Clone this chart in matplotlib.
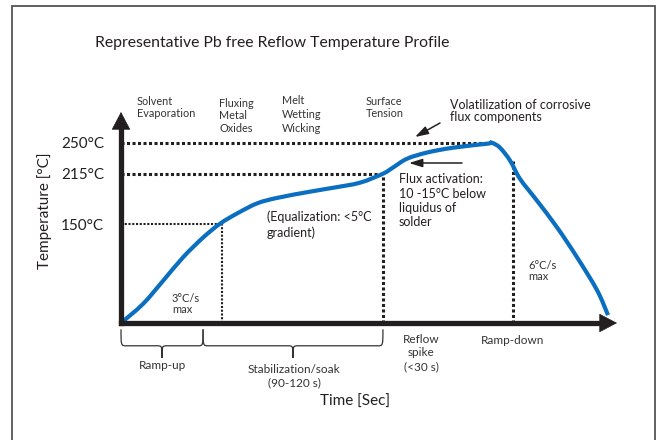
import numpy as np
import matplotlib
matplotlib.use("Agg")
import matplotlib.pyplot as plt
from matplotlib.path import Path
from matplotlib.patches import PathPatch, Rectangle, FancyArrowPatch
import matplotlib.transforms as mtransforms

plt.rcParams['font.family'] = ['Lato', 'DejaVu Sans']

# profile: time [s] / temperature [°C]
time_s = [0, 16.4, 31.3, 46.3, 61.2, 73.9, 86.5, 101.5, 116.4, 141.0, 158.2,
          178.3, 195.4, 202.9, 213.4, 228.3, 247.7, 273.0, 276.8, 282.7,
          290.2, 297.6, 310.3, 325.3, 340.2, 355.1, 363.3]
temp_c = [0, 29, 64, 100, 130, 151, 164, 177, 184, 192, 197,
          203.5, 215, 222, 232, 239, 244.5, 249, 250, 244.5,
          230, 208.5, 180.5, 145.5, 100, 50, 12]

levels = [150, 215, 250]
level_labels = ["150°C", "215°C", "250°C"]
level_ends = [75.3, 195.4, 276.8]          # where each dotted level meets the curve

marks_t = [75.3, 195.4, 292.4]             # vertical dotted markers
marks_top = [150, 215, 229.7]

phase_edges = [0, 61.2, 195.4]             # ramp-up | soak
phase_names = ["Ramp-up", "Stabilization/soak\n(90-120 s)"]

# the drawing is not to scale on the temperature axis
T_knots = [-50, 0, 150, 215, 250, 285, 400]
H_knots = [-33, 0, 99, 150, 181, 212, 314]

W, H = 656, 440
INK = "#231f20"
GREY = "#333333"
BLUE = "#0a6fc0"


def fx(x):
    return x / W


def fy(y):
    return 1 - y / H


def to_h(t):
    return np.interp(t, T_knots, H_knots)


def to_t(h):
    return np.interp(h, H_knots, T_knots)


def smooth_path(xs, ts):
    # catmull-rom through the read points, drawn as bezier segments
    p = np.column_stack([xs, to_h(np.asarray(ts, float))])
    p = np.vstack([p[0], p, p[-1]])
    verts = [p[1]]
    codes = [Path.MOVETO]
    for i in range(1, len(p) - 2):
        c1 = p[i] + (p[i + 1] - p[i - 1]) / 6
        c2 = p[i + 1] - (p[i + 2] - p[i]) / 6
        verts += [c1, c2, p[i + 1]]
        codes += [Path.CURVE4] * 3
    verts = np.array(verts)
    verts[:, 1] = to_t(verts[:, 1])
    return Path(verts, codes)


fig = plt.figure(figsize=(W / 100, H / 100), dpi=100)
ax = fig.add_axes([fx(121), fy(323), 496 / W, 211 / H])
ax.set_yscale('function', functions=(to_h, to_t))
ax.set_xlim(0, 370)
ax.set_ylim(0, 285)
for s in ax.spines.values():
    s.set_visible(False)
ax.set_xticks([])
ax.set_yticks(levels, level_labels)
ax.tick_params(axis='y', length=0, pad=12, labelsize=11, labelcolor=INK)

# dotted guides
for lv, te in zip(levels, level_ends):
    lw = 1.5 if lv == 150 else 2.2
    ax.plot([0, te], [lv, lv], color=INK, lw=lw, ls=(0, (1, 0.8)), zorder=2)
for tm, top in zip(marks_t, marks_top):
    lw = 1.5 if tm == marks_t[0] else 2.2
    ax.plot([tm, tm], [0, top], color=INK, lw=lw, ls=(0, (1, 0.8)), zorder=2)

# profile
ax.add_patch(PathPatch(smooth_path(time_s, temp_c), fill=False, ec=BLUE,
                       lw=3, capstyle='butt', zorder=3, clip_on=False))

# axes with arrows
ax.plot([0, 362], [0, 0], color=INK, lw=3.8, solid_capstyle='projecting',
        clip_on=False, zorder=4)
ax.plot([0, 0], [0, 276], color=INK, lw=3.8, solid_capstyle='projecting',
        clip_on=False, zorder=4)
head = dict(arrowstyle='-|>,head_length=0.85,head_width=0.45', color=INK,
            lw=0.5, shrinkA=0, shrinkB=0, mutation_scale=14)
ax.annotate('', xy=(370, 0), xytext=(355, 0), arrowprops=head,
            annotation_clip=False, zorder=5)
ax.annotate('', xy=(0, 285), xytext=(0, 270), arrowprops=head,
            annotation_clip=False, zorder=5)

# braces under the time axis
btr = mtransforms.blended_transform_factory(ax.transData, ax.transAxes)
yt, ym, yb = -0.03, -0.108, -0.165
r = 4
for (x0, x1) in zip(phase_edges[:-1], phase_edges[1:]):
    xm = (x0 + x1) / 2
    verts = [(x0, yt), (x0, ym), (x0, ym), (x0 + r, ym),
             (xm - r, ym),
             (xm, ym), (xm, ym), (xm, yb),
             (xm, yb), (xm, ym), (xm, ym), (xm + r, ym),
             (x1 - r, ym),
             (x1, ym), (x1, ym), (x1, yt)]
    codes = [Path.MOVETO, Path.CURVE4, Path.CURVE4, Path.CURVE4,
             Path.LINETO,
             Path.CURVE4, Path.CURVE4, Path.CURVE4,
             Path.MOVETO, Path.CURVE4, Path.CURVE4, Path.CURVE4,
             Path.LINETO,
             Path.CURVE4, Path.CURVE4, Path.CURVE4]
    ax.add_patch(PathPatch(Path(verts, codes), transform=btr, fill=False,
                           ec=GREY, lw=0.9, clip_on=False))

# frame around the picture
fig.add_artist(Rectangle((fx(12), -0.05), (655 - 12) / W, fy(6) + 0.05,
                         transform=fig.transFigure, fill=False,
                         ec="#555555", lw=1.3))

# texts
fig.text(fx(95), fy(43), "Representative Pb free Reflow Temperature Profile",
         fontsize=11.3, color=INK, va='center')
fig.text(fx(45), fy(211), "Temperature [°C]", rotation=90, fontsize=11,
         color=INK, ha='center', va='center')
fig.text(fx(355), fy(402), "Time [Sec]", fontsize=11, color=INK,
         ha='center', va='center')

small = dict(fontsize=7.8, color=GREY, va='top')
fig.text(fx(137), fy(96), "Solvent\nEvaporation", linespacing=1.15, **small)
fig.text(fx(219), fy(98), "Fluxing\nMetal\nOxides", linespacing=1.15, **small)
fig.text(fx(282), fy(95), "Melt\nWetting\nWicking", linespacing=1.35, **small)
fig.text(fx(366), fy(96), "Surface\nTension", linespacing=1.1, **small)

mid = dict(fontsize=9, color=INK, va='top')
fig.text(fx(450), fy(99), "Volatilization of corrosive\nflux components",
         linespacing=1.0, **mid)
fig.text(fx(399), fy(173), "Flux activation:\n10 -15°C below\nliquidus of\nsolder",
         linespacing=1.25, **mid)
fig.text(fx(267), fy(210), "(Equalization: <5°C\ngradient)",
         linespacing=1.4, **mid)

rate = dict(fontsize=8, color=GREY, va='top', linespacing=0.95)
fig.text(fx(172), fy(293), "3°C/s\nmax", **rate)
fig.text(fx(528), fy(260), "6°C/s\nmax", **rate)

bot = dict(fontsize=8.5, color=GREY, ha='center', va='center')
fig.text(fx(162), fy(365), phase_names[0], **bot)
fig.text(fx(294), fy(376), phase_names[1], linespacing=1.3, **bot)
fig.text(fx(421), fy(353), "Reflow\nspike\n(<30 s)", linespacing=1.3, **bot)
fig.text(fx(513), fy(340), "Ramp-down", **bot)

# pointer arrows
pointer = dict(arrowstyle='-|>,head_length=0.8,head_width=0.25', color=INK,
               lw=1.1, shrinkA=0, shrinkB=0, mutation_scale=10)
fig.add_artist(FancyArrowPatch((fx(440), fy(123)), (fx(415), fy(137)),
                               transform=fig.transFigure, **pointer))
fig.add_artist(FancyArrowPatch((fx(462), fy(163)), (fx(409), fy(163)),
                               transform=fig.transFigure, **pointer))

fig.savefig("out.png", dpi=100)
